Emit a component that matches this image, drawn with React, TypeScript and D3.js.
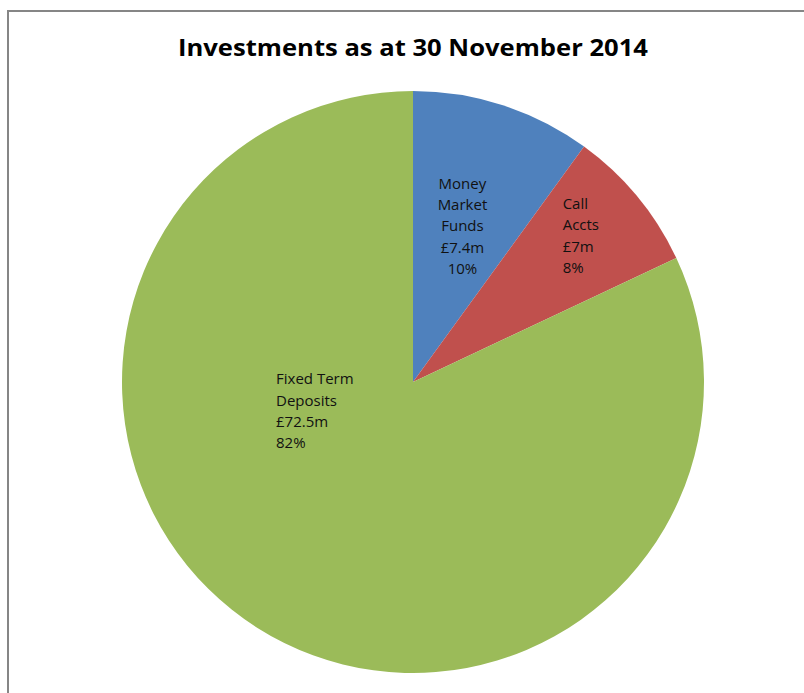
import React, { useEffect, useRef } from 'react';
import * as d3 from 'd3';

// slices, clockwise from 12 o'clock
const categories = ['Money Market Funds', 'Call Accts', 'Fixed Term Deposits'];
const shares = [10, 8, 82];
const amounts = ['£7.4m', '£7m', '£72.5m'];
const percentLabels = ['10%', '8%', '82%'];
const labelLines = [
  ['Money', 'Market', 'Funds'],
  ['Call', 'Accts'],
  ['Fixed Term', 'Deposits'],
];
const colors = ['#4F81BD', '#C0504D', '#9BBB59'];

const title = 'Investments as at 30 November 2014';

const App: React.FC = () => {
  const svgRef = useRef<SVGSVGElement | null>(null);

  useEffect(() => {
    const width = 804;
    const height = 693;
    const cx = 413;
    const cy = 382;
    const radius = 291;

    const svg = d3.select(svgRef.current!);
    svg.selectAll('*').remove();

    svg.append('rect').attr('width', width).attr('height', height).attr('fill', '#fff');

    // chart area border (runs off the right and bottom edges)
    svg
      .append('rect')
      .attr('x', 8)
      .attr('y', 11)
      .attr('width', width + 20)
      .attr('height', height + 20)
      .attr('fill', 'none')
      .attr('stroke', '#868686')
      .attr('stroke-width', 2);

    svg
      .append('text')
      .attr('x', cx)
      .attr('y', 56)
      .attr('text-anchor', 'middle')
      .attr('font-family', 'Open Sans, sans-serif')
      .attr('font-weight', 'bold')
      .attr('font-size', 23)
      .attr('textLength', 470)
      .attr('lengthAdjust', 'spacingAndGlyphs')
      .attr('fill', '#000')
      .text(title);

    const pie = d3
      .pie<number>()
      .sort(null)
      .value((d) => d);
    const arcs = pie(shares);

    const arc = d3.arc<d3.PieArcDatum<number>>().innerRadius(0).outerRadius(radius);

    const g = svg.append('g').attr('transform', `translate(${cx}, ${cy})`);

    g.selectAll('path')
      .data(arcs)
      .enter()
      .append('path')
      .attr('d', arc)
      .attr('fill', (_, i) => colors[i]);

    // label placement: Excel puts them roughly inside each slice
    const labelAnchor = [
      { r: 160, shift: [0, -41], anchor: 'middle' },
      { r: 215, shift: [-16, -36], anchor: 'start' },
      { r: 150, shift: [8, -36], anchor: 'start' },
    ];
    const labelAngle = [null, null, -1.83];
    const lineH = 21.3;

    arcs.forEach((a, i) => {
      const ang = labelAngle[i] ?? (a.startAngle + a.endAngle) / 2;
      const la = labelAnchor[i];
      const x = Math.sin(ang) * la.r + la.shift[0];
      const y = -Math.cos(ang) * la.r + la.shift[1];
      const lines = [...labelLines[i], amounts[i], percentLabels[i]];
      const t = g
        .append('text')
        .attr('font-family', 'Open Sans, sans-serif')
        .attr('font-size', 15)
        .attr('fill', '#111')
        .attr('text-anchor', la.anchor)
        .attr('aria-label', categories[i]);
      lines.forEach((line, j) => {
        t.append('tspan')
          .attr('x', x)
          .attr('y', y + j * lineH)
          .text(line);
      });
    });
  }, []);

  return (
    <svg
      ref={svgRef}
      width={804}
      height={693}
      style={{ position: 'absolute', left: 0, top: 0 }}
    />
  );
};

export default App;
